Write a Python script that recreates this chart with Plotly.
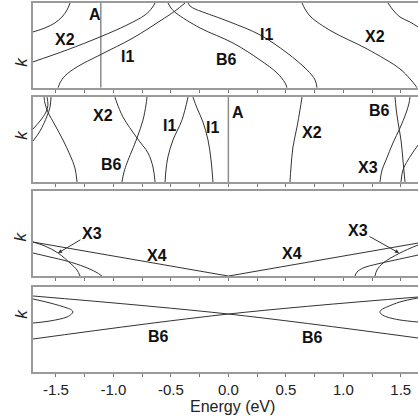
import plotly.graph_objects as go

# ---- energy axis ----
tick_vals = [-1.5, -1.0, -0.5, 0.0, 0.5, 1.0, 1.5]
tick_text = ["-1.5", "-1.0", "-0.5", "0.0", "0.5", "1.0", "1.5"]

# ---- panel 1 branches (energy in eV, k normalised to 0..1) ----
p1_x2_arc_e = [-1.70, -1.596, -1.509, -1.448, -1.404, -1.378]
p1_x2_arc_k = [0.659, 0.706, 0.765, 0.835, 0.918, 1.0]
p1_x2_rise_e = [-1.70, -1.404, -1.117, -0.882, -0.725, -0.665, -0.638]
p1_x2_rise_k = [0.306, 0.447, 0.600, 0.741, 0.859, 0.941, 1.0]
p1_i1_rise_e = [-1.482, -1.465, -1.422, -1.317, -1.117, -0.830, -0.595, -0.464, -0.377]
p1_i1_rise_k = [0.0, 0.059, 0.141, 0.247, 0.388, 0.588, 0.788, 0.906, 1.0]
p1_b6_fall_e = [-0.525, -0.499, -0.456, -0.247, 0.040, 0.275, 0.423, 0.493, 0.510]
p1_b6_fall_k = [1.0, 0.941, 0.882, 0.706, 0.529, 0.329, 0.176, 0.059, 0.0]
p1_i1_fall_e = [-0.351, -0.334, -0.290, -0.247, 0.014, 0.275, 0.510, 0.684, 0.754, 0.771]
p1_i1_fall_k = [1.0, 0.965, 0.929, 0.906, 0.776, 0.624, 0.412, 0.212, 0.094, 0.0]
p1_x2_fall_e = [0.641, 0.667, 0.719, 0.893, 1.206, 1.493, 1.580, 1.624, 1.641]
p1_x2_fall_k = [1.0, 0.929, 0.835, 0.671, 0.459, 0.224, 0.106, 0.035, 0.0]
p1_edge_e = [1.389, 1.432, 1.493, 1.580, 1.650]
p1_edge_k = [1.0, 0.918, 0.835, 0.776, 0.718]
p1_marker_a = -1.11

# ---- panel 2 branches ----
p2_l1_e = [-1.70, -1.639, -1.587, -1.570, -1.578]
p2_l1_k = [0.624, 0.718, 0.824, 0.906, 1.0]
p2_l2_e = [-1.70, -1.639, -1.578, -1.552, -1.543]
p2_l2_k = [0.482, 0.600, 0.776, 0.882, 1.0]
p2_l3_e = [-1.604, -1.596, -1.570, -1.509, -1.439, -1.378, -1.335, -1.317]
p2_l3_k = [1.0, 0.929, 0.824, 0.671, 0.494, 0.318, 0.165, 0.0]
p2_x2_e = [-0.987, -0.969, -0.917, -0.795, -0.699, -0.656, -0.638]
p2_x2_k = [1.0, 0.929, 0.765, 0.518, 0.341, 0.176, 0.0]
p2_b6_e = [-0.926, -0.908, -0.882, -0.795, -0.743, -0.717, -0.708]
p2_b6_k = [0.0, 0.118, 0.224, 0.518, 0.729, 0.906, 1.0]
p2_i1a_e = [-0.551, -0.543, -0.526, -0.482, -0.404, -0.351]
p2_i1a_k = [0.0, 0.141, 0.294, 0.494, 0.729, 1.0]
p2_i1b_e = [-0.308, -0.273, -0.221, -0.177, -0.151, -0.134]
p2_i1b_k = [1.0, 0.871, 0.706, 0.494, 0.259, 0.0]
p2_x2r_e = [0.641, 0.623, 0.597, 0.562, 0.545, 0.536]
p2_x2r_k = [1.0, 0.847, 0.647, 0.412, 0.176, 0.0]
p2_r1_e = [1.319, 1.337, 1.372, 1.432, 1.493, 1.546, 1.572, 1.580]
p2_r1_k = [0.0, 0.141, 0.259, 0.459, 0.635, 0.812, 0.929, 1.0]
p2_r2_e = [1.450, 1.459, 1.476, 1.502, 1.519, 1.537]
p2_r2_k = [1.0, 0.871, 0.706, 0.494, 0.259, 0.0]
p2_r3_e = [1.502, 1.519, 1.563, 1.650]
p2_r3_k = [0.0, 0.141, 0.259, 0.435]
p2_marker_a = 0.0

# ---- panel 3 branches ----
p3_x4_e = [-1.70, 0.0, 1.65]
p3_x4_k = [0.40, 0.0, 0.388]
p3_c1_e = [-1.70, -1.596, -1.482, -1.378, -1.317, -1.291]
p3_c1_k = [0.40, 0.353, 0.271, 0.153, 0.071, 0.0]
p3_c2_e = [-1.70, -1.552, -1.404, -1.248, -1.152, -1.100]
p3_c2_k = [0.271, 0.224, 0.176, 0.106, 0.047, 0.0]
p3_c2r_e = [1.102, 1.119, 1.171, 1.293, 1.450, 1.650]
p3_c2r_k = [0.0, 0.047, 0.094, 0.141, 0.188, 0.247]
p3_c1r_e = [1.276, 1.293, 1.346, 1.493, 1.650]
p3_c1r_k = [0.0, 0.071, 0.153, 0.271, 0.365]

# ---- panel 4 branches ----
p4_fall_e = [-1.70, 0.0, 1.65]
p4_fall_k = [0.894, 0.682, 0.40]
p4_rise_e = [-1.70, 0.0, 1.65]
p4_rise_k = [0.388, 0.682, 0.882]
p4_lpar_e = [-1.70, -1.552, -1.404, -1.365, -1.352, -1.365, -1.404, -1.552, -1.70]
p4_lpar_k = [0.859, 0.812, 0.753, 0.730, 0.706, 0.682, 0.647, 0.600, 0.576]
p4_rpar_e = [1.650, 1.493, 1.380, 1.335, 1.319, 1.335, 1.380, 1.493, 1.650]
p4_rpar_k = [0.871, 0.824, 0.765, 0.735, 0.706, 0.676, 0.647, 0.612, 0.588]

FONT = "Arial, 'Liberation Sans', sans-serif"
CURVE = "#333333"
FRAME = "#9a9a9a"

fig = go.Figure()

def branch(e, k, row, shape="spline"):
    fig.add_trace(go.Scatter(
        x=e, y=k, mode="lines", xaxis=f"x{row}", yaxis=f"y{row}",
        line=dict(color=CURVE, width=1, shape=shape, smoothing=1.0),
        showlegend=False, hoverinfo="skip"))

def marker_line(e, row):
    fig.add_trace(go.Scatter(
        x=[e, e], y=[0, 1], mode="lines", xaxis=f"x{row}", yaxis=f"y{row}",
        line=dict(color="#8c8c8c", width=1.5),
        showlegend=False, hoverinfo="skip"))

# panel 1
marker_line(p1_marker_a, 1)
for e, k in [(p1_x2_arc_e, p1_x2_arc_k), (p1_x2_rise_e, p1_x2_rise_k),
             (p1_i1_rise_e, p1_i1_rise_k), (p1_b6_fall_e, p1_b6_fall_k),
             (p1_i1_fall_e, p1_i1_fall_k), (p1_x2_fall_e, p1_x2_fall_k),
             (p1_edge_e, p1_edge_k)]:
    branch(e, k, 1)

# panel 2
marker_line(p2_marker_a, 2)
for e, k in [(p2_l1_e, p2_l1_k), (p2_l2_e, p2_l2_k), (p2_l3_e, p2_l3_k),
             (p2_x2_e, p2_x2_k), (p2_b6_e, p2_b6_k), (p2_i1a_e, p2_i1a_k),
             (p2_i1b_e, p2_i1b_k), (p2_x2r_e, p2_x2r_k), (p2_r1_e, p2_r1_k),
             (p2_r2_e, p2_r2_k), (p2_r3_e, p2_r3_k)]:
    branch(e, k, 2)

# panel 3
branch(p3_x4_e, p3_x4_k, 3, shape="linear")
for e, k in [(p3_c1_e, p3_c1_k), (p3_c2_e, p3_c2_k),
             (p3_c2r_e, p3_c2r_k), (p3_c1r_e, p3_c1r_k)]:
    branch(e, k, 3)

# panel 4
for e, k in [(p4_fall_e, p4_fall_k), (p4_rise_e, p4_rise_k),
             (p4_lpar_e, p4_lpar_k), (p4_rpar_e, p4_rpar_k)]:
    branch(e, k, 4)

domains = [[0.770, 1.0], [0.515, 0.745], [0.260, 0.4905], [0.0, 0.2304]]
layout = dict(
    width=418, height=416,
    margin=dict(l=33, r=0, t=3, b=44),
    paper_bgcolor="white", plot_bgcolor="white",
    font=dict(family=FONT, color="#222222", size=16),
)
for i, dom in enumerate(domains, start=1):
    layout[f"xaxis{i}"] = dict(
        domain=[0, 1], anchor=f"y{i}", range=[-1.70, 1.65],
        showline=True, linecolor=FRAME, linewidth=1.5, mirror=True,
        showgrid=False, zeroline=False,
        tickmode="array", tickvals=tick_vals, ticktext=tick_text,
        ticks="outside", ticklen=3, tickcolor="#777777", tickwidth=1,
        minor=dict(ticks="outside", tick0=0, dtick=0.25, ticklen=3,
                   tickcolor="#777777", showgrid=False),
        showticklabels=(i == 4),
        tickfont=dict(family=FONT, size=15, color="#222222"),
        matches=None if i == 1 else "x1",
    )
    layout[f"yaxis{i}"] = dict(
        domain=dom, anchor=f"x{i}", range=[0, 1],
        showline=True, linecolor=FRAME, linewidth=1.5,
        showgrid=False, zeroline=False, ticks="", showticklabels=False,
    )
fig.update_layout(**layout)

# band labels: (text, energy, k, panel)
band_labels = [
    ("A", -1.160, 0.859, 1), ("X2", -1.422, 0.565, 1), ("I1", -0.882, 0.365, 1),
    ("I1", 0.336, 0.624, 1), ("B6", -0.012, 0.329, 1), ("X2", 1.276, 0.600, 1),
    ("X2", -1.091, 0.788, 2), ("B6", -1.013, 0.200, 2), ("I1", -0.508, 0.671, 2),
    ("I1", -0.134, 0.647, 2), ("A", 0.084, 0.824, 2), ("X2", 0.728, 0.588, 2),
    ("B6", 1.319, 0.847, 2), ("X3", 1.215, 0.165, 2),
    ("X4", -0.621, 0.247, 3), ("X4", 0.554, 0.271, 3),
    ("B6", -0.612, 0.412, 4), ("B6", 0.736, 0.400, 4),
]
for txt, e, k, row in band_labels:
    fig.add_annotation(x=e, y=k, xref=f"x{row}", yref=f"y{row}", text=f"<b>{txt}</b>",
                       showarrow=False, font=dict(family=FONT, size=16, color="#111111"))

# X3 labels with pointers onto the branch
for tip_e, tip_k, txt_e, txt_k in [(-1.482, 0.271, -1.187, 0.506), (1.485, 0.271, 1.128, 0.541)]:
    fig.add_annotation(x=tip_e, y=tip_k, xref="x3", yref="y3",
                       ax=txt_e, ay=txt_k, axref="x3", ayref="y3",
                       text="<b>X3</b>", showarrow=True, arrowhead=2, arrowsize=0.8,
                       arrowwidth=1, arrowcolor="#333333", standoff=0,
                       font=dict(family=FONT, size=16, color="#111111"))

# y-axis titles
for yp in [0.859, 0.642, 0.366, 0.138]:
    fig.add_annotation(x=-0.062, y=yp, xref="paper", yref="paper", text="<i>k</i>",
                       textangle=-90, showarrow=False,
                       font=dict(family=FONT, size=17, color="#222222"))

fig.add_annotation(x=0.517, y=-0.093, xref="paper", yref="paper", text="Energy (eV)",
                   showarrow=False, yanchor="middle",
                   font=dict(family=FONT, size=16, color="#222222"))

fig.write_html("out.html")
